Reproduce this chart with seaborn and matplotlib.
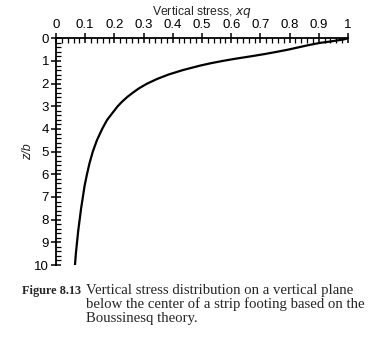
import matplotlib
matplotlib.use("Agg")
import matplotlib.pyplot as plt
from matplotlib.ticker import MultipleLocator
import seaborn as sns
import pandas as pd

depth_zb = [0.0, 0.05, 0.1, 0.15, 0.2, 0.3, 0.4, 0.5, 0.6, 0.7, 0.8, 0.9, 1.0, 1.1, 1.2,
            1.4, 1.6, 1.8, 2.0, 2.2, 2.4, 2.6, 2.8, 3.0, 3.3, 3.6, 4.0, 4.5, 5.0, 5.5,
            6.0, 6.5, 7.0, 7.5, 8.0, 8.5, 9.0, 9.5, 10.0]
stress_xq = [1.0, 0.985, 0.96, 0.935, 0.905, 0.865, 0.83, 0.795, 0.755, 0.712, 0.665,
             0.615, 0.57, 0.53, 0.495, 0.435, 0.385, 0.345, 0.312, 0.285, 0.263, 0.243,
             0.226, 0.211, 0.193, 0.175, 0.158, 0.140, 0.126, 0.115, 0.106, 0.098,
             0.092, 0.086, 0.081, 0.076, 0.072, 0.068, 0.065]
x_ticks = [0, 0.1, 0.2, 0.3, 0.4, 0.5, 0.6, 0.7, 0.8, 0.9, 1]
x_tick_labels = ["0", "0.1", "0.2", "0.3", "0.4", "0.5", "0.6", "0.7", "0.8", "0.9", "1"]
y_ticks = list(range(0, 11))
caption_label = "Figure 8.13"
caption_lines = ["Vertical stress distribution on a vertical plane",
                 "below the center of a strip footing based on the",
                 "Boussinesq theory."]

df = pd.DataFrame({"z": depth_zb, "s": stress_xq})

sns.set_style("white")
plt.rcParams['font.family'] = ['Liberation Sans', 'DejaVu Sans']

fig = plt.figure(figsize=(3.84, 3.48), dpi=100)
ax = fig.add_axes([56/384, 1-265/348, (348-56)/384, (265-38.3)/348])

sns.lineplot(data=df, x="s", y="z", orient="y", sort=False, color="black", lw=1.6, ax=ax)

ax.set_xlim(0, 1)
ax.set_ylim(10, 0)
ax.xaxis.set_ticks_position("top")
ax.xaxis.set_label_position("top")
ax.set_xticks(x_ticks)
ax.set_xticklabels(x_tick_labels)
ax.set_yticks(y_ticks)
ax.xaxis.set_minor_locator(MultipleLocator(0.02))
ax.yaxis.set_minor_locator(MultipleLocator(0.2))
for s in ["right", "bottom"]:
    ax.spines[s].set_visible(False)
for s in ["top", "left"]:
    ax.spines[s].set_linewidth(1.3)
    ax.spines[s].set_color("black")
ax.tick_params(which="major", direction="inout", length=7, width=1.1, labelsize=9.5, pad=1.5, colors="black")
ax.tick_params(which="minor", direction="in", length=3.5, width=0.9, colors="black")
ax.tick_params(axis="x", which="both", top=True, bottom=False)
ax.tick_params(axis="y", which="both", left=True, right=False)

ax.set_xlabel("Vertical stress, $\\it{xq}$", fontsize=8.8, labelpad=3)
ax.set_ylabel("z/b", fontsize=9, style="italic", labelpad=0)

serif = ['Liberation Serif', 'DejaVu Serif']
baselines = [294, 308, 322]
fig.text(81/384, 1-baselines[0]/348, caption_label, fontsize=8.8, weight="bold",
         family=serif, va="baseline", ha="right")
for yb, line in zip(baselines, caption_lines):
    fig.text(86/384, 1-yb/348, line, fontsize=10.6, family=serif, va="baseline", ha="left")

fig.savefig("out.png", dpi=100)
